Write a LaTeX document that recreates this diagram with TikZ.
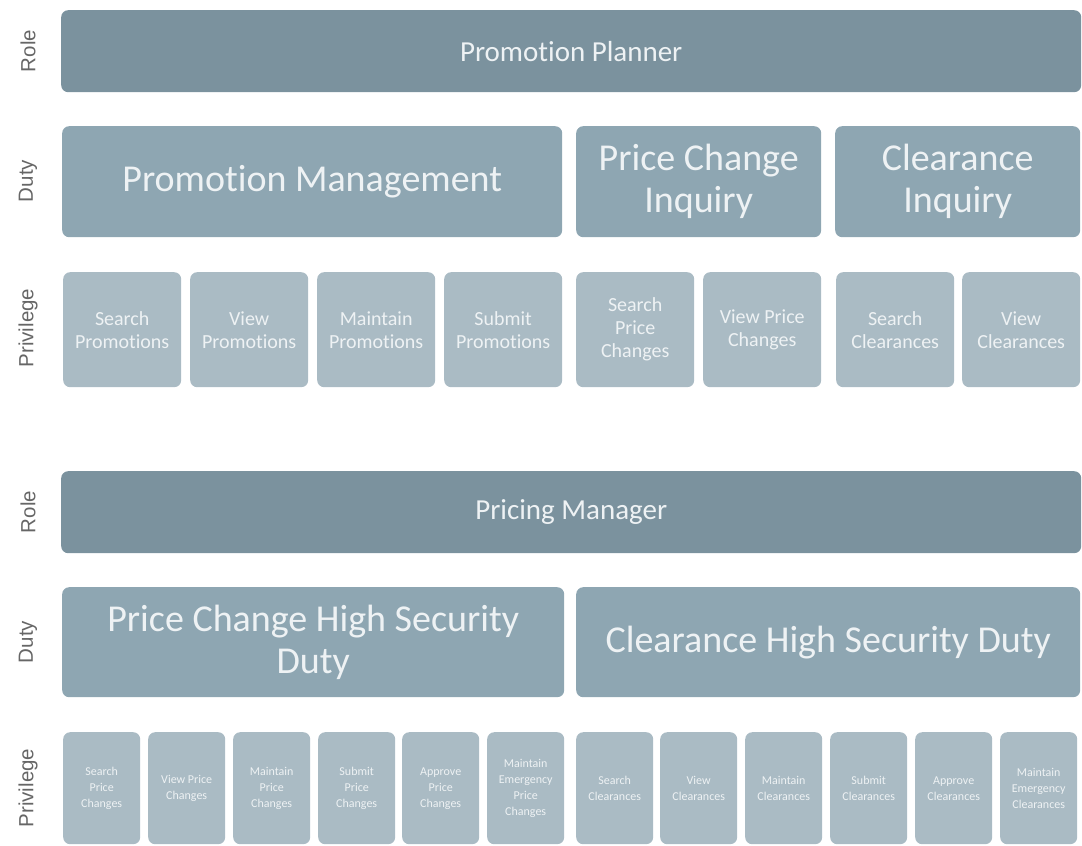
\documentclass[tikz,border=0pt]{standalone}
\usepackage{fontspec}
\setmainfont[RawFeature={-liga;-clig;-calt;-dlig}]{Carlito}
\newfontfamily\sidefont{Liberation Sans}
\usepackage{xcolor}
\definecolor{rolefill}{HTML}{7B929E}
\definecolor{dutyfill}{HTML}{8EA6B2}
\definecolor{privfill}{HTML}{AABBC4}
\definecolor{boxtext}{HTML}{EEF2F4}
\definecolor{sidetext}{HTML}{666666}
\usepackage{tikz}

\begin{document}
\begin{tikzpicture}[x=1pt, y=-1pt,
    box/.style={anchor=north west, rounded corners=7pt, inner sep=0pt, align=center, text=boxtext},
    rolebox/.style={box, fill=rolefill, minimum width=1020pt, minimum height=82pt, font=\fontsize{29}{33}\selectfont},
    dutybox/.style={box, fill=dutyfill, minimum height=111pt, font=\fontsize{38}{42}\selectfont},
    privbox/.style={box, fill=privfill, minimum width=118pt, minimum height=115pt, font=\fontsize{20}{23}\selectfont},
    smallpriv/.style={box, fill=privfill, minimum width=77pt, minimum height=112pt, font=\fontsize{12}{16}\selectfont},
    side/.style={rotate=90, text=sidetext, font=\sidefont\fontsize{20.5}{22}\selectfont}]
    \useasboundingbox (0, 0) rectangle (1082, 846);
    % Promotion Planner
    \node[side] (roleA) at (28, 51) {Role};
    \node[side] (dutyA) at (28, 181) {Duty};
    \node[side] (privA) at (28, 328) {Privilege};
    \node[rolebox] (pp) at (61, 10) {Promotion Planner};
    \node[dutybox, minimum width=500pt] (pm) at (62, 126) {Promotion Management};
    \node[dutybox, minimum width=245pt] (pci) at (576, 126) {Price Change\\Inquiry};
    \node[dutybox, minimum width=245pt] (ci) at (835, 126) {Clearance\\Inquiry};
    \foreach \x/\t [count=\i] in {63/{Search\\Promotions}, 190/{View\\Promotions}, 317/{Maintain\\Promotions},
        444/{Submit\\Promotions}, 576/{Search\\Price\\Changes}, 703/{View Price\\Changes},
        836/{Search\\Clearances}, 962/{View\\Clearances}}
        \node[privbox] (pa\i) at (\x, 272) {\t};
    % Pricing Manager
    \node[side] (roleB) at (28, 512) {Role};
    \node[side] (dutyB) at (28, 642) {Duty};
    \node[side] (privB) at (28, 788) {Privilege};
    \node[rolebox] (pmgr) at (61, 471) {Pricing Manager};
    \node[dutybox, minimum width=502pt, minimum height=110pt] (pchs) at (62, 587) {Price Change High Security\\Duty};
    \node[dutybox, minimum width=504pt, minimum height=110pt] (chs) at (576, 587) {Clearance High Security Duty};
    \foreach \x/\t [count=\i] in {63/{Search\\Price\\Changes}, 148/{View Price\\Changes}, 233/{Maintain\\Price\\Changes},
        318/{Submit\\Price\\Changes}, 402/{Approve\\Price\\Changes}, 487/{Maintain\\Emergency\\Price\\Changes},
        576/{Search\\Clearances}, 660/{View\\Clearances}, 745/{Maintain\\Clearances},
        830/{Submit\\Clearances}, 915/{Approve\\Clearances}, 1000/{Maintain\\Emergency\\Clearances}}
        \node[smallpriv] (pb\i) at (\x, 732) {\t};
\end{tikzpicture}
\end{document}
